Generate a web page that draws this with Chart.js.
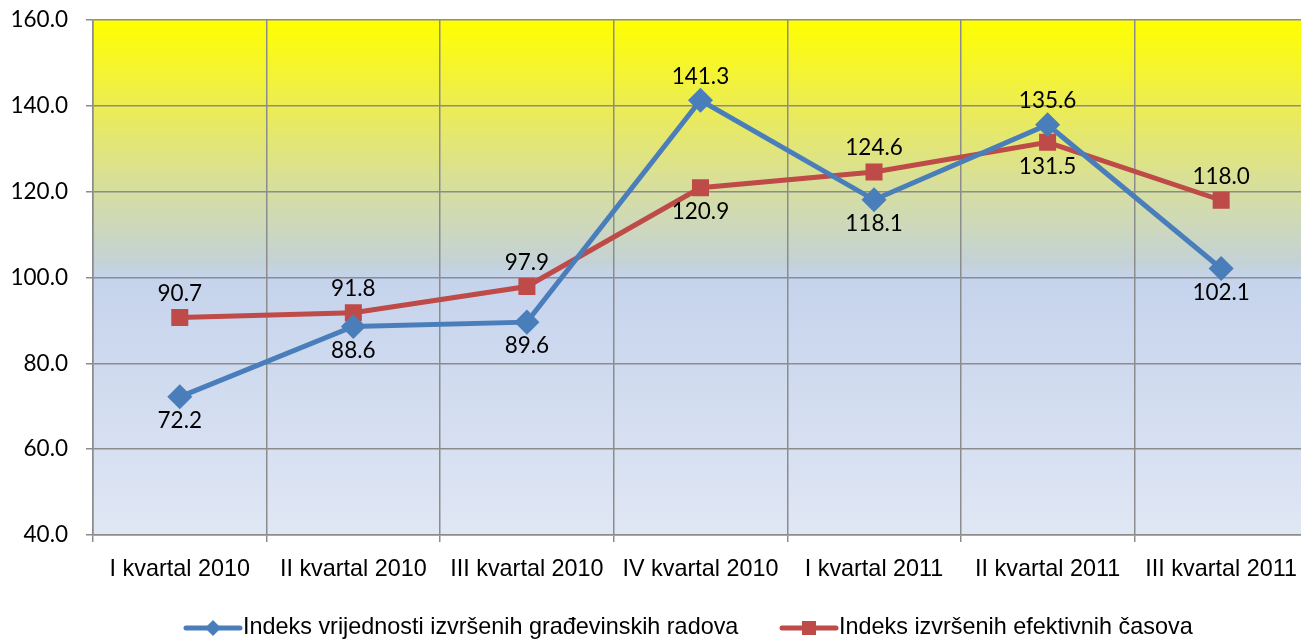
<!DOCTYPE html>
<html>
<head>
<meta charset="utf-8">
<script src="https://cdn.jsdelivr.net/npm/chart.js@4"></script>
<style>
  html, body { margin: 0; padding: 0; background: #fff; overflow: hidden; }
  canvas { display: block; }
</style>
</head>
<body>
<canvas id="chart" width="1311" height="641"></canvas>
<script>
    // data
    const categories = ["I kvartal 2010", "II kvartal 2010", "III kvartal 2010", "IV kvartal 2010", "I kvartal 2011", "II kvartal 2011", "III kvartal 2011"];
    const seriesNames = ["Indeks vrijednosti izvršenih građevinskih radova", "Indeks izvršenih efektivnih časova"];
    const valueIndex = [72.2, 88.6, 89.6, 141.3, 118.1, 135.6, 102.1];
    const hoursIndex = [90.7, 91.8, 97.9, 120.9, 124.6, 131.5, 118.0];
    const yTicks = [40, 60, 80, 100, 120, 140, 160];

    const BLUE = "#4a7ebb";
    const RED = "#be4b48";
    const numFont = "Lato, 'Open Sans', sans-serif";
    const txtFont = "'Liberation Sans', Arial, sans-serif";

    // gradient plot background
    const plotBg = {
      id: "plotBg",
      beforeDraw(chart) {
        const { ctx, chartArea: a } = chart;
        const g = ctx.createLinearGradient(0, a.top, 0, a.bottom);
        g.addColorStop(0, "#ffff00");
        g.addColorStop(0.17, "#ecec55");
        g.addColorStop(0.33, "#d6dea0");
        g.addColorStop(0.47, "#c4d2d6");
        g.addColorStop(0.5, "#c5d3ec");
        g.addColorStop(1, "#e0e7f4");
        ctx.save();
        ctx.fillStyle = g;
        ctx.fillRect(a.left, a.top, a.right - a.left, a.bottom - a.top);
        ctx.restore();
      }
    };

    // value labels above / below the points
    const pointLabels = {
      id: "pointLabels",
      afterDatasetsDraw(chart) {
        const ctx = chart.ctx;
        ctx.save();
        ctx.font = "22.5px " + numFont;
        ctx.fillStyle = "#000";
        ctx.textAlign = "center";
        ctx.textBaseline = "middle";
        chart.data.datasets.forEach((ds, di) => {
          const other = chart.data.datasets[1 - di].data;
          chart.getDatasetMeta(di).data.forEach((pt, i) => {
            const above = ds.data[i] > other[i];
            ctx.fillText(ds.data[i].toFixed(1), pt.x, pt.y + (above ? -24 : 24));
          });
        });
        ctx.restore();
      }
    };

    // legend with line + marker samples
    const lineLegend = {
      id: "lineLegend",
      afterDraw(chart) {
        const ctx = chart.ctx;
        const y = 628;
        const items = [
          { x: 186, color: BLUE, shape: "diamond", text: seriesNames[0] },
          { x: 782, color: RED, shape: "square", text: seriesNames[1] }
        ];
        ctx.save();
        items.forEach(it => {
          ctx.strokeStyle = it.color;
          ctx.lineWidth = 5;
          ctx.lineCap = "round";
          ctx.beginPath();
          ctx.moveTo(it.x, y);
          ctx.lineTo(it.x + 54, y);
          ctx.stroke();
          ctx.fillStyle = it.color;
          const cx = it.x + 27;
          if (it.shape === "diamond") {
            ctx.beginPath();
            ctx.moveTo(cx, y - 8);
            ctx.lineTo(cx + 8, y);
            ctx.lineTo(cx, y + 8);
            ctx.lineTo(cx - 8, y);
            ctx.closePath();
            ctx.fill();
          } else {
            ctx.fillRect(cx - 7, y - 7, 14, 14);
          }
          ctx.fillStyle = "#000";
          ctx.font = "23.4px " + txtFont;
          ctx.textAlign = "left";
          ctx.textBaseline = "middle";
          ctx.fillText(it.text, it.x + 57, y);
        });
        ctx.restore();
      }
    };

    new Chart(document.getElementById("chart"), {
      type: "line",
      data: {
        labels: categories,
        datasets: [
          {
            label: seriesNames[0],
            data: valueIndex,
            borderColor: BLUE,
            backgroundColor: BLUE,
            borderWidth: 5,
            pointStyle: "rectRot",
            pointRadius: 9,
            pointHoverRadius: 9,
            tension: 0
          },
          {
            label: seriesNames[1],
            data: hoursIndex,
            borderColor: RED,
            backgroundColor: RED,
            borderWidth: 5,
            pointStyle: "rect",
            pointRadius: 8.5,
            pointHoverRadius: 8.5,
            tension: 0
          }
        ]
      },
      options: {
        responsive: false,
        animation: false,
        layout: { autoPadding: false, padding: { top: 20, right: 0, bottom: 46, left: 0 } },
        plugins: {
          legend: { display: false },
          tooltip: { enabled: false }
        },
        scales: {
          x: {
            offset: true,
            afterFit: s => { s.height = 60; },
            grid: {
              offset: true,
              color: "#8c8c8c",
              lineWidth: 1.5,
              tickLength: 7
            },
            border: { color: "#8c8c8c", width: 1.5 },
            ticks: {
              color: "#000",
              font: { family: txtFont, size: 23.4 },
              padding: 14,
              maxRotation: 0,
              autoSkip: false
            }
          },
          y: {
            min: 40,
            max: 160,
            afterFit: s => { s.width = 93; s.paddingTop = 0; s.paddingBottom = 0; },
            afterBuildTicks: s => { s.ticks = yTicks.map(v => ({ value: v })); },
            grid: {
              color: "#8c8c8c",
              lineWidth: 1.5,
              tickLength: 7
            },
            border: { color: "#8c8c8c", width: 1.5 },
            ticks: {
              color: "#000",
              font: { family: numFont, size: 22.5 },
              padding: 18,
              callback: v => v.toFixed(1)
            }
          }
        }
      },
      plugins: [plotBg, pointLabels, lineLegend]
    });
</script>
</body>
</html>
